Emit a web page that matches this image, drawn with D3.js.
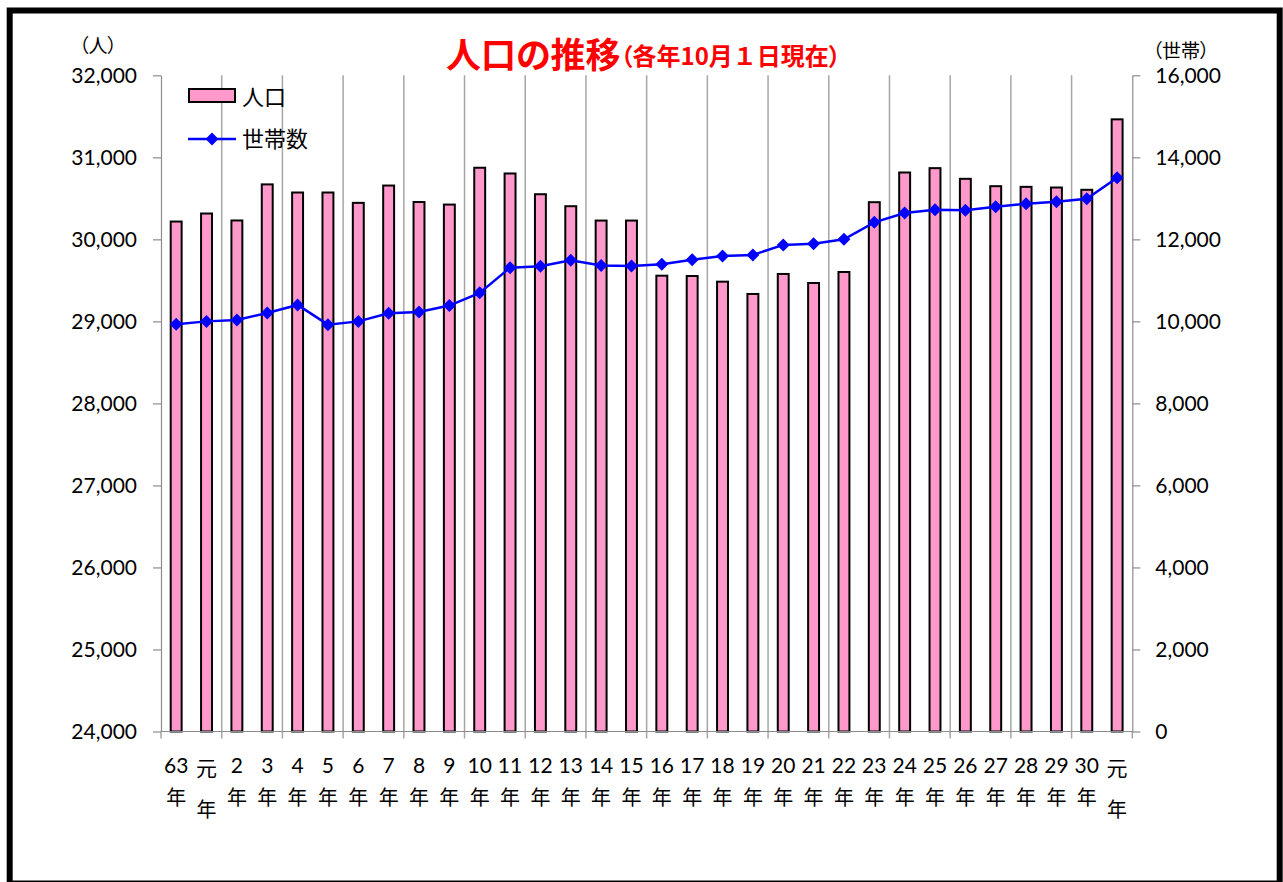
<!DOCTYPE html>
<html>
<head>
<meta charset="utf-8">
<script src="https://cdn.jsdelivr.net/npm/d3@7"></script>
<style>
  html, body { margin: 0; padding: 0; background: #fff; }
  svg { display: block; }
  text, tspan { font-feature-settings: "palt"; }
  tspan.nopalt { font-feature-settings: normal; }
</style>
</head>
<body>
<svg id="chart" width="1283" height="882"></svg>
<script>
// ---- data ----
const categories = ["63","元","2","3","4","5","6","7","8","9","10","11","12","13","14","15","16","17","18","19","20","21","22","23","24","25","26","27","28","29","30","元"];
const population = [30217, 30315, 30230, 30670, 30571, 30571, 30445, 30656, 30455, 30424, 30873, 30803, 30550, 30404, 30229, 30229, 29557, 29553, 29484, 29334, 29578, 29468, 29602, 30453, 30815, 30868, 30738, 30648, 30640, 30632, 30604, 31463];
const households = [9930, 10000, 10035, 10205, 10400, 9920, 10000, 10200, 10230, 10385, 10695, 11310, 11345, 11490, 11360, 11350, 11395, 11505, 11595, 11620, 11865, 11895, 12000, 12415, 12640, 12720, 12710, 12795, 12870, 12915, 12990, 13500];
const leftTicks = [24000, 25000, 26000, 27000, 28000, 29000, 30000, 31000, 32000];
const rightTicks = [0, 2000, 4000, 6000, 8000, 10000, 12000, 14000, 16000];
const seriesNames = ["人口", "世帯数"];
const titleMain = "人口の推移";
const titleSubParts = ["（各年10月", "１", "日現在）"];
const leftUnit = "（人）";
const rightUnit = "（世帯）";
const yearSuffix = "年";

// ---- layout ----
const X0 = 161, X1 = 1132.3, Y0 = 75.3, Y1 = 731.5;
const numFont = "Lato, 'Noto Sans CJK JP', sans-serif";
const cjkFont = "'Noto Sans CJK JP', sans-serif";
const svg = d3.select("#chart");

const x = d3.scaleBand().domain(d3.range(categories.length)).range([X0, X1]).padding(0);
const yL = d3.scaleLinear().domain([24000, 32000]).range([Y1, Y0]);
const yR = d3.scaleLinear().domain([0, 16000]).range([Y1, Y0]);

// frame
svg.append("rect").attr("x", 9.7).attr("y", 10.5).attr("width", 1270).attr("height", 873)
  .attr("fill", "none").attr("stroke", "#000").attr("stroke-width", 6);

// vertical gridlines every 2 categories + bottom ticks
const gridIdx = d3.range(2, categories.length, 2);
svg.append("g").selectAll("line").data(gridIdx).join("line")
  .attr("x1", d => x(d)).attr("x2", d => x(d))
  .attr("y1", Y0).attr("y2", Y1 + 7)
  .attr("stroke", "#a6a6a6").attr("stroke-width", 1.5);
svg.append("g").selectAll("line").data([0, categories.length]).join("line")
  .attr("x1", d => d === 0 ? X0 : X1).attr("x2", d => d === 0 ? X0 : X1)
  .attr("y1", Y1).attr("y2", Y1 + 7)
  .attr("stroke", "#a6a6a6").attr("stroke-width", 1.5);

// bars
const barW = x.bandwidth() * 0.36;
svg.append("g").selectAll("rect").data(population).join("rect")
  .attr("x", (d, i) => x(i) + (x.bandwidth() - barW) / 2)
  .attr("y", d => yL(d))
  .attr("width", barW)
  .attr("height", d => Y1 - yL(d))
  .attr("fill", "#ff99cc").attr("stroke", "#000").attr("stroke-width", 2);

// axes
const axL = svg.append("g").attr("transform", `translate(${X0},0)`)
  .call(d3.axisLeft(yL).tickValues(leftTicks).tickFormat(d3.format(",")).tickSize(8).tickSizeOuter(0).tickPadding(16));
const axR = svg.append("g").attr("transform", `translate(${X1},0)`)
  .call(d3.axisRight(yR).tickValues(rightTicks).tickFormat(d3.format(",")).tickSize(8).tickSizeOuter(0).tickPadding(15));
[axL, axR].forEach(a => {
  a.select(".domain").attr("stroke", "#8c8c8c").attr("stroke-width", 1.2);
  a.selectAll(".tick line").attr("stroke", "#8c8c8c").attr("stroke-width", 1.2);
  a.selectAll(".tick text").attr("font-family", numFont).attr("font-size", 21).attr("fill", "#000");
});
svg.append("line").attr("x1", X0).attr("x2", X1).attr("y1", Y1).attr("y2", Y1)
  .attr("stroke", "#8c8c8c").attr("stroke-width", 1.2);

// x labels
const xl = svg.append("g").selectAll("g").data(categories).join("g")
  .attr("transform", (d, i) => `translate(${x(i) + x.bandwidth() / 2},0)`);
xl.append("text").attr("y", d => d === "元" ? 767 : 764).attr("dominant-baseline", "central")
  .attr("text-anchor", "middle").attr("font-family", numFont).attr("font-size", 21).attr("fill", "#000")
  .text(d => d);
xl.append("text").attr("y", d => d === "元" ? 808 : 796).attr("dominant-baseline", "central")
  .attr("text-anchor", "middle").attr("font-family", cjkFont).attr("font-size", 20).attr("fill", "#000")
  .text(yearSuffix);

// line
const line = d3.line().x((d, i) => x(i) + x.bandwidth() / 2).y(d => yR(d));
svg.append("path").datum(households).attr("d", line)
  .attr("fill", "none").attr("stroke", "#0000ff").attr("stroke-width", 2.5);
const diamond = "M0,-6.5L6.5,0L0,6.5L-6.5,0Z";
svg.append("g").selectAll("path").data(households).join("path")
  .attr("transform", (d, i) => `translate(${x(i) + x.bandwidth() / 2},${yR(d)})`)
  .attr("d", diamond).attr("fill", "#0000ff");

// legend
svg.append("rect").attr("x", 189).attr("y", 89).attr("width", 46).attr("height", 13)
  .attr("fill", "#ff99cc").attr("stroke", "#000").attr("stroke-width", 2);
svg.append("line").attr("x1", 188).attr("x2", 236).attr("y1", 139).attr("y2", 139)
  .attr("stroke", "#0000ff").attr("stroke-width", 2.5);
svg.append("path").attr("transform", "translate(212,139)").attr("d", diamond).attr("fill", "#0000ff");
svg.append("text").attr("x", 242).attr("y", 95).attr("dominant-baseline", "central")
  .attr("font-family", cjkFont).attr("font-size", 22).attr("fill", "#000").text(seriesNames[0]);
svg.append("text").attr("x", 242).attr("y", 137).attr("dominant-baseline", "central")
  .attr("font-family", cjkFont).attr("font-size", 22).attr("fill", "#000").text(seriesNames[1]);

// units
svg.append("text").attr("x", 98).attr("y", 44).attr("text-anchor", "middle").attr("dominant-baseline", "central")
  .attr("font-family", cjkFont).attr("font-size", 19).attr("fill", "#000").text(leftUnit);
svg.append("text").attr("x", 1181).attr("y", 49).attr("text-anchor", "middle").attr("dominant-baseline", "central")
  .attr("font-family", cjkFont).attr("font-size", 19).attr("fill", "#000").text(rightUnit);

// title
const t = svg.append("text").attr("x", 446).attr("y", 52).attr("dominant-baseline", "central")
  .attr("font-family", cjkFont).attr("font-weight", "bold").attr("fill", "#ff0000");
t.append("tspan").attr("font-size", 35).text(titleMain);
t.append("tspan").attr("font-size", 24).attr("dy", 2).text(titleSubParts[0]);
t.append("tspan").attr("class", "nopalt").attr("font-size", 24).text(titleSubParts[1]);
t.append("tspan").attr("font-size", 24).text(titleSubParts[2]);
</script>
</body>
</html>
